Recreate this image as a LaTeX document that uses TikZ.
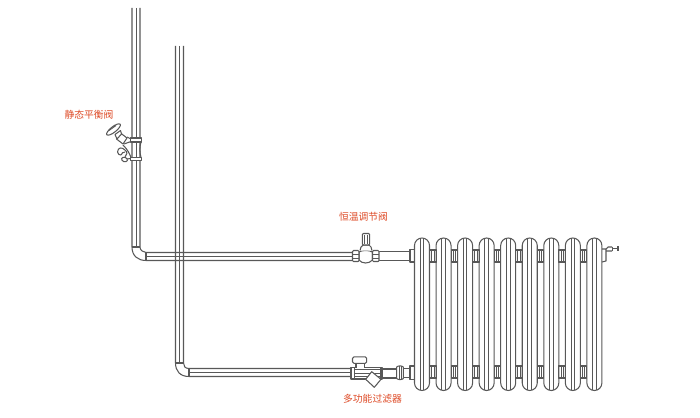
\documentclass[tikz,border=0pt]{standalone}
\usepackage{fontspec}
\newfontfamily\cjk{Noto Sans CJK SC}
\definecolor{labelred}{HTML}{DE4A26}
\definecolor{ink}{HTML}{585858}
\tikzset{
  pipe/.style={draw=ink,line width=1.05pt,line join=round},
  thin pipe/.style={draw=ink,line width=0.95pt},
  fit part/.style={draw=ink,line width=1.05pt,fill=white,line join=round},
  tag/.style={text=labelred,font=\cjk\fontsize{9.8}{10}\selectfont,inner sep=0pt}
}
\begin{document}
\begin{tikzpicture}[x=1pt,y=-1pt]
\path[use as bounding box,fill=white] (0,0) rectangle (700,417);
% upper pipe
\draw[pipe] (132,8) -- (132,247) .. controls (132,256) and (138,260.5) .. (146,260.5) -- (353,260.5);
\draw[pipe] (140,8) -- (140,247) .. controls (140,250) and (143,252.5) .. (146,252.5) -- (353,252.5);
\draw[thin pipe] (136,8) -- (136,247);
\draw[thin pipe] (146,256.5) -- (353,256.5);
\draw[pipe] (132,247) -- (140,247) (146,252.5) -- (146,260.5);
% lower pipe
\draw[pipe] (175.5,46) -- (175.5,363) .. controls (175.5,371) and (180,376.5) .. (189,376.5) -- (352,376.5);
\draw[pipe] (183.5,46) -- (183.5,363) .. controls (183.5,366) and (185,368.5) .. (189,368.5) -- (352,368.5);
\draw[thin pipe] (179.5,46) -- (179.5,363);
\draw[thin pipe] (189,372.5) -- (352,372.5);
\draw[pipe] (175.5,363) -- (183.5,363) (189,368.5) -- (189,376.5);
% thermostatic valve and pipe to radiator
\draw[pipe] (379,251.5) -- (410,251.5) (379,260.5) -- (410,260.5);
\draw[fit part] (359,252) .. controls (362,250) and (369,250) .. (372.5,252) -- (372.5,260) .. controls (369,264) and (362,264) .. (359,260) -- cycle;
\draw[fit part,rounded corners=1pt] (352.5,250.5) rectangle (359,261.5);
\draw[fit part,rounded corners=1pt] (372.5,250.5) rectangle (379,261.5);
\draw[thin pipe] (352.5,254) -- (359,254) (352.5,258) -- (359,258) (372.5,254) -- (379,254) (372.5,258) -- (379,258);
\draw[fit part] (360,250.5) -- (361,247) -- (363,245) -- (369,245) -- (371,247) -- (372,250.5);
\draw[fit part,rounded corners=1pt] (362.3,233.5) rectangle (369.7,245);
\draw[thin pipe] (364.8,234.5) -- (364.8,244) (367.2,234.5) -- (367.2,244);
\draw[fit part] (410,249.5) rectangle (415,262);
% lower valve, strainer
\draw[pipe] (382,369) -- (397,369) (382,378) -- (397,378);
\draw[fit part] (351,367.5) rectangle (382,379);
\draw[thin pipe] (354.5,367.5) -- (354.5,379) (380,367.5) -- (380,379);
\draw[thin pipe] (354.5,369.5) -- (380,369.5) (354.5,373) -- (380,373) (354.5,376.5) -- (380,376.5);
\draw[fit part] (356,367.5) -- (356,363.3) -- (364.3,363.3) -- (364.3,367.5);
\draw[fit part,rounded corners=1.5pt] (352.5,356.8) rectangle (366.7,363.3);
\draw[fit part] (365.7,379.3) -- (371.7,371.7) -- (381,379.3) -- (374.3,387.3) -- cycle;
\draw[fit part] (396.7,367) .. controls (398,365.5) and (402,365.5) .. (403.3,367) -- (403.3,378.5) .. controls (402,380) and (398,380) .. (396.7,378.5) -- cycle;
\draw[thin pipe] (399,366) -- (399,379.5) (401,366) -- (401,379.5);
\draw[fit part] (403.3,368.5) -- (410,368.5) -- (410,377.5) -- (403.3,377.5) -- cycle;
\draw[fit part] (410,366) rectangle (415,379.5);
% radiator
\foreach \i in {0,...,8}{
  \pgfmathsetmacro{\xa}{414.5+21.55*\i}
  \begin{scope}[shift={(\xa,0)}]
    \draw[pipe,fill=white] (0,245.5) arc[start angle=180,end angle=360,radius=7.5] -- (15,383) arc[start angle=0,end angle=180,radius=7.5] -- cycle;
    \draw[thin pipe] (5.7,238.5) -- (5.7,390) (9.3,238.5) -- (9.3,390);
  \end{scope}
}
\foreach \i in {0,...,7}{
  \pgfmathsetmacro{\xa}{429.5+21.55*\i}
  \begin{scope}[shift={(\xa,0)}]
    \draw[pipe] (0,250) rectangle (6.55,262);
    \draw[thin pipe] (2.2,250) -- (2.2,262) (4.5,250) -- (4.5,262);
    \draw[pipe] (0,366) rectangle (6.55,378);
    \draw[thin pipe] (2.2,366) -- (2.2,378) (4.5,366) -- (4.5,378);
  \end{scope}
}
% right end plug
\draw[pipe] (602,249) -- (606,249) -- (606,261) -- (602,262);
\draw[pipe] (606,249) -- (608,247) -- (612,247) (606,251) -- (612,251);
\draw[pipe] (612,248.7) -- (618,248.7) (618,246) -- (618,251);
\draw[thin pipe] (612,247) -- (612,251);
% static balance valve
\draw[fit part] (130.7,138) -- (141.7,138) -- (141.7,142) -- (130.7,142) -- cycle;
\draw[fit part] (130.7,157.3) -- (141.7,157.3) -- (141.7,160.7) -- (130.7,160.7) -- cycle;
\draw[pipe] (141,142) .. controls (139.5,147) and (139.5,152) .. (141,157.3);
\draw[pipe] (127,137) -- (131,139) (124,144) -- (131,141.5);
\draw[fit part] (120.5,133) -- (127,138) -- (123,144) -- (116.5,139) -- cycle;
\draw[fit part] (115,134.5) -- (120.5,130.5) -- (121.5,134) -- (117,139) -- cycle;
\draw[fit part,rotate around={38:(113.5,129.5)}] (113.5,129.5) ellipse (8.5 and 2.8);
\draw[thin pipe] (109,130.5) -- (116,125.5);
\draw[pipe] (123,145) .. controls (128,150) and (129,153) .. (131,157.3);
\draw[pipe] (117.5,152) .. controls (118,147) and (122,147) .. (125,150) .. controls (128,152) and (127,155) .. (125,157);
\draw[pipe] (121,155) .. controls (122,153) and (123,152) .. (125,152);
\draw[fit part,rotate around={-20:(124.5,159.5)}] (124.5,159.5) ellipse (3 and 2.2);
\draw[pipe] (127,159) -- (130.7,158.5);
\draw[pipe] (117.5,152) .. controls (117.5,154) and (120,155.5) .. (121,155);
% labels
\node[tag] (balance) at (89,114.5) {静态平衡阀};
\node[tag] (thermo) at (363.5,217) {恒温调节阀};
\node[tag] (filter) at (372.5,398.5) {多功能过滤器};
\end{tikzpicture}
\end{document}
